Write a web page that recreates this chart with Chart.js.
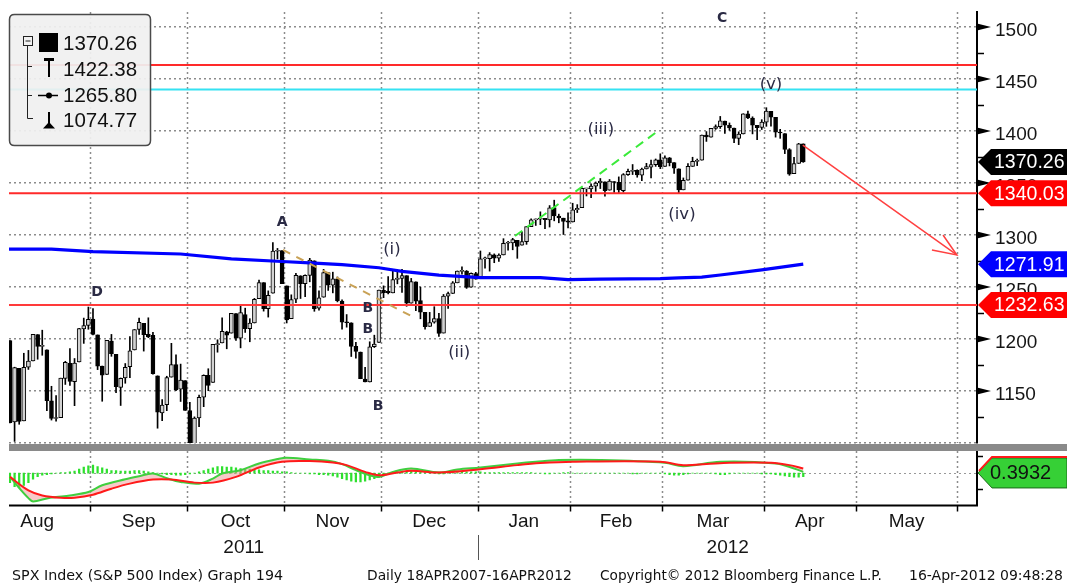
<!DOCTYPE html>
<html><head><meta charset="utf-8">
<script src="https://cdn.jsdelivr.net/npm/chart.js@4.4.1/dist/chart.umd.min.js"></script>
<style>
html,body{margin:0;padding:0;background:#fff;}
#wrap{position:relative;width:1067px;height:583px;overflow:hidden;background:#fff;}
canvas{position:absolute;left:0;top:0;}
</style></head><body>
<div id="wrap"><canvas id="top" width="1067" height="583"></canvas><canvas id="bot" width="1067" height="583"></canvas></div>
<script>
// ---------- categories (trading days) ----------
const tradingMonths = ["2011-08","2011-09","2011-10","2011-11","2011-12","2012-01","2012-02","2012-03","2012-04","2012-05","2012-06"];
const monthNames = ["Aug","Sep","Oct","Nov","Dec","Jan","Feb","Mar","Apr","May","Jun"];
const tradingDays = [
 [1,2,3,4,5,8,9,10,11,12,15,16,17,18,19,22,23,24,25,26,29,30,31],
 [1,2,6,7,8,9,12,13,14,15,16,19,20,21,22,23,26,27,28,29,30],
 [3,4,5,6,7,10,11,12,13,14,17,18,19,20,21,24,25,26,27,28,31],
 [1,2,3,4,7,8,9,10,11,14,15,16,17,18,21,22,23,25,28,29,30],
 [1,2,5,6,7,8,9,12,13,14,15,16,19,20,21,22,23,27,28,29,30],
 [3,4,5,6,9,10,11,12,13,17,18,19,20,23,24,25,26,27,30,31],
 [1,2,3,6,7,8,9,10,13,14,15,16,17,21,22,23,24,27,28,29],
 [1,2,5,6,7,8,9,12,13,14,15,16,19,20,21,22,23,26,27,28,29,30],
 [2,3,4,5,9,10,11,12,13,16,17,18,19,20,23,24,25,26,27,30],
 [1,2,3,4,7,8,9,10,11,14,15,16,17,18,21,22,23,24,25,29,30,31],
 [1,4,5,6,7,8]
];
const yearNames = ["2011","2012"];
const firstCandleDate = "2011-08-05";

// ---------- SPX daily OHLC (Aug 5 2011 - Apr 13 2012) ----------
const open = [
1200.28,1198.48,1120.23,1171.77,1121.30,1172.87,1178.86,1204.22,1192.89,1189.62,1140.47,1123.55,1124.36,1162.16,1176.69,1158.85,1177.91,1209.76,1213.00,
1219.12,1203.90,1173.97,1165.85,1197.98,1185.37,1153.50,1162.59,1173.32,1189.44,1209.21,1214.99,1204.50,1203.63,1164.55,1128.82,1136.91,1163.32,1175.39,1151.74,1159.93,
1131.21,1097.42,1124.03,1144.11,1165.03,1158.15,1194.60,1196.19,1206.96,1205.65,1224.47,1200.75,1223.46,1209.92,1215.39,1238.72,1254.19,1229.17,1243.97,1284.39,1284.96,
1251.00,1219.62,1238.25,1260.82,1253.21,1261.12,1275.18,1229.59,1240.12,1263.85,1251.70,1257.81,1236.56,1216.19,1215.62,1192.98,1187.48,1161.41,1158.67,1192.56,1196.72,
1246.91,1246.03,1244.33,1257.19,1258.14,1260.87,1234.48,1255.05,1236.83,1225.73,1212.12,1216.09,1219.74,1205.72,1241.25,1243.72,1254.00,1265.02,1265.38,1249.75,1262.82,
1258.86,1277.03,1277.30,1280.93,1277.83,1280.77,1292.02,1292.48,1294.82,1290.22,1293.65,1308.07,1314.49,1315.29,1315.96,1314.40,1326.28,1318.25,1316.16,1313.53,
1312.45,1324.24,1326.21,1344.32,1344.33,1347.04,1349.97,1351.21,1343.06,1351.30,1350.52,1342.61,1358.06,1361.22,1362.11,1357.53,1363.46,1365.20,1367.56,1372.20,
1365.90,1374.09,1369.59,1363.63,1343.39,1352.65,1365.97,1370.78,1371.92,1395.95,1394.17,1402.55,1404.17,1409.59,1405.52,1402.89,1392.78,1397.11,1416.55,1412.52,1405.39,1403.31,
1408.47,1418.98,1413.09,1398.79,1397.45,1382.18,1358.98,1368.77,1387.61];
const high = [
1218.11,1198.48,1172.88,1171.77,1186.29,1189.04,1204.49,1204.22,1208.47,1189.62,1154.54,1145.49,1162.35,1178.56,1190.68,1181.23,1210.28,1220.10,1230.71,
1229.29,1203.90,1173.97,1198.62,1204.40,1185.37,1162.52,1176.41,1202.38,1209.11,1220.06,1214.99,1220.39,1206.30,1164.55,1141.72,1164.19,1195.86,1184.71,1175.87,1159.93,
1138.99,1125.12,1146.07,1165.55,1171.40,1194.91,1199.24,1220.25,1207.46,1224.61,1224.47,1233.10,1229.64,1219.53,1239.03,1256.55,1254.19,1246.28,1292.66,1287.08,1284.96,
1251.00,1242.48,1263.21,1260.82,1261.70,1277.55,1275.18,1246.22,1266.98,1263.85,1264.25,1259.61,1237.73,1223.51,1215.62,1196.81,1187.48,1172.66,1197.35,1203.67,1247.11,
1251.09,1260.08,1266.73,1266.03,1267.06,1260.87,1258.25,1255.05,1249.86,1225.73,1225.60,1231.04,1224.57,1242.82,1245.09,1255.22,1265.42,1269.37,1265.85,1263.54,1264.12,
1284.62,1278.73,1283.05,1281.84,1281.99,1296.46,1293.80,1296.82,1294.82,1303.00,1308.11,1315.49,1315.38,1322.28,1315.96,1328.30,1333.47,1320.06,1316.16,1321.41,
1330.52,1329.19,1345.34,1344.36,1349.24,1351.00,1354.32,1351.21,1353.35,1351.30,1355.87,1359.02,1363.40,1367.76,1362.70,1364.24,1368.92,1371.94,1373.09,1378.04,
1376.17,1374.53,1369.59,1363.63,1354.85,1368.72,1374.76,1373.04,1396.13,1399.42,1402.63,1405.88,1414.00,1409.59,1407.75,1402.89,1399.18,1416.58,1419.15,1413.65,1405.39,1410.89,
1422.38,1419.00,1413.09,1401.60,1397.45,1383.01,1374.71,1388.13,1387.61];
const low = [
1168.09,1119.28,1101.54,1118.01,1121.30,1170.74,1178.86,1180.53,1184.36,1131.03,1122.05,1121.09,1124.36,1156.30,1155.47,1135.91,1177.91,1195.77,1209.35,
1203.85,1170.56,1140.13,1165.85,1183.34,1148.37,1136.07,1157.44,1162.73,1189.44,1204.46,1188.36,1201.29,1166.21,1114.22,1121.36,1131.07,1163.32,1150.40,1139.93,1131.34,
1098.92,1074.77,1115.68,1134.95,1150.26,1158.15,1187.30,1196.19,1190.58,1205.65,1198.55,1191.48,1206.31,1197.34,1215.39,1238.72,1226.79,1221.06,1243.97,1277.01,1253.16,
1215.42,1219.62,1234.81,1238.92,1240.75,1254.99,1226.64,1227.70,1240.12,1246.68,1244.34,1235.67,1209.43,1211.36,1183.16,1181.65,1161.79,1158.66,1158.67,1191.80,1196.72,
1239.73,1243.35,1244.33,1253.03,1244.80,1231.47,1234.48,1227.25,1219.43,1209.47,1212.12,1215.20,1202.37,1205.72,1229.51,1243.72,1254.00,1262.30,1248.64,1249.75,1257.46,
1258.86,1268.10,1265.26,1273.34,1274.55,1280.77,1285.41,1285.77,1277.58,1290.22,1290.99,1308.07,1309.17,1309.89,1306.06,1307.65,1313.60,1311.72,1300.49,1306.69,
1312.45,1321.57,1326.21,1337.52,1335.92,1341.95,1344.63,1337.35,1343.06,1340.83,1340.80,1341.22,1357.24,1358.11,1355.53,1352.28,1363.46,1354.92,1365.97,1363.81,
1365.90,1366.42,1359.13,1340.03,1343.39,1352.65,1365.97,1366.69,1371.92,1389.97,1394.17,1401.47,1402.43,1397.68,1400.64,1388.73,1386.87,1397.11,1411.95,1397.20,1391.56,1401.42,
1404.46,1404.62,1394.09,1392.92,1378.24,1357.38,1358.98,1368.77,1369.85];
const close = [
1199.38,1119.46,1172.53,1120.76,1172.64,1178.81,1204.49,1192.76,1193.89,1140.65,1123.53,1123.82,1162.35,1177.60,1159.27,1176.80,1210.08,1212.92,1218.89,
1204.42,1173.97,1165.24,1198.62,1185.90,1154.23,1162.27,1172.87,1188.68,1209.11,1216.01,1204.09,1202.09,1166.76,1129.56,1136.43,1162.95,1175.38,1151.06,1160.40,1131.42,
1099.23,1123.95,1144.03,1164.97,1155.46,1194.89,1195.54,1207.25,1203.66,1224.58,1200.86,1225.38,1209.88,1215.39,1238.25,1254.19,1229.05,1242.00,1284.59,1285.09,1253.30,
1218.28,1237.90,1261.15,1253.23,1261.12,1275.92,1229.10,1239.69,1263.85,1251.78,1257.81,1236.91,1216.13,1215.65,1192.98,1188.04,1161.79,1158.67,1192.55,1195.19,1246.96,
1244.58,1244.28,1257.08,1258.47,1261.01,1234.35,1255.19,1236.47,1225.73,1211.82,1215.75,1219.66,1205.35,1241.30,1243.72,1254.00,1265.33,1265.43,1249.64,1263.02,1257.60,
1277.06,1277.30,1281.06,1277.81,1280.70,1292.08,1292.48,1295.50,1289.09,1293.67,1308.04,1314.50,1315.38,1316.00,1314.65,1326.06,1318.43,1316.33,1313.01,1312.41,
1324.09,1325.54,1344.90,1344.33,1347.05,1349.96,1351.95,1342.64,1351.77,1350.50,1343.23,1358.04,1361.23,1362.21,1357.66,1363.46,1365.74,1367.59,1372.18,1365.68,
1374.09,1369.63,1364.33,1343.36,1352.63,1365.91,1370.87,1371.09,1395.95,1394.28,1402.60,1404.17,1409.75,1405.52,1402.89,1392.78,1397.11,1416.51,1412.52,1405.54,1403.28,1408.47,
1419.04,1413.38,1398.96,1398.08,1382.20,1358.59,1368.71,1387.57,1370.26];

// ---------- moving average (blue), read at sample days ----------
const maDay = [4,14,23,42,53,64,71,77,85,90,98,107,120,126,133,146,150,155,159,168,177];
const maVal = [1286.5,1286.5,1284,1281.7,1277,1274.5,1273,1271.5,1268.5,1265,1261.5,1259,1259,1257,1257.5,1258,1258.7,1259.5,1261.5,1266.5,1272];

// ---------- horizontal levels ----------
const levelVals = [1463.5, 1440, 1340.03, 1232.63];
const levelColors = ['#ff2a2a','#35e2f2','#ff2a2a','#ff3a3a'];

// ---------- trend lines ----------
const greenDay = [114.5, 144.9], greenVal = [1299, 1398];
const tanDay = [64.2, 92.4], tanVal = [1285.6, 1221.2];
const arrowDay = [176.9, 210.3], arrowVal = [1386.5, 1280.8];
const headDay = [207.3, 210.3, 204.9], headVal = [1300, 1280.8, 1285.6];

// ---------- wave labels ----------
const waveText = ["C","(v)","(iii)","(iv)","A","(i)","D","B","B","(ii)","B"];
const waveDay  = [159.4,170,133.1,150.7,64,87.8,23.9,82.6,82.6,102.4,84.8];
const waveVal  = [1508.7,1444.2,1401,1319.2,1312.5,1285.6,1245.2,1229.8,1209.6,1186.5,1135.6];

// ---------- right axis tags & legend ----------
const tagVals = [1370.26, 1340.03, 1271.91, 1232.63];
const tagBg = ['#000000','#ff0000','#0000ff','#ff0000'];
const legendVals = ["1370.26","1422.38","1265.80","1074.77"];
const macdTag = 0.3932;

// ---------- MACD panel ----------
const macdDay = [5,7,9,10,13,15,18,22,25,30,33,36,39,42,46,49,51,55,59,63,65,70,74,77,80,83,85,88,92,98,102,107,115,119,124,133,147,151,159,171,175,177];
const macdVal = [-5.5,-22,-37,-42,-37.5,-35.5,-33,-28,-18,-9,-4.5,-0.5,-7.5,-13,-15.5,-8,-0.5,4.5,14.5,21,23,20.5,18.5,13.5,4.5,-3,-5.5,2,7,1,5.5,8.5,14.5,17,19.5,19.5,15.5,10.5,17,14.5,7,2];
const sigDay = [5,9,12,16,19,23,27,31,36,40,45,49,54,59,64,70,75,78,82,85,89,92,98,107,115,120,127,146,151,156,161,170,174,177];
const sigVal = [-5.5,-25.5,-33,-36.5,-36.5,-32,-23,-15.5,-9.5,-9.5,-14,-14,-5.5,8.5,17,18,16,12,2,-3,1,3.5,1,6,12,15,17,17,12,13.5,15.5,15.5,12,7];
const histVal = [
-8,
-14,-20,-21,-18,-14,-9,-5,
-3,-2,-1,0,1,1,2,3,
6,9,11,12,10,8,6,
4,4,3,3,3,4,4,3,2,
1,0,-1,-2,-2,-3,-3,-2,
-1,0,2,4,6,
8,10,10,9,9,8,7,6,6,
5,5,4,4,3,3,2,2,1,
0,0,0,-1,-1,-2,-2,-3,-4,
-6,-8,-10,-12,-13,-13,-12,-10,-8,-6,-4,
-1,1,2,3,3,3,2,2,1,
0,0,-1,-1,0,1,1,2,2,2,
2,2,1,1,1,1,1,1,1,1,
1,1,1,0,0,-1,-1,0,0,1,1,0,
0,0,0,0,0,0,0,0,0,0,0,0,-1,-1,0,0,0,0,
0,-1,-2,-3,-3,-2,-1,0,0,0,
0,0,-1,-2,-2,-1,0,0,0,0,0,0,-1,-1,-1,
-2,-3,-4,-5,-6,-6,-5];

const footer = ["SPX Index (S&P 500 Index) Graph 194","Daily 18APR2007-16APR2012","Copyright\u00A9 2012 Bloomberg Finance L.P.","16-Apr-2012 09:48:28"];

// ---------- derived ----------
const dates = [];
const monthStart = [];
tradingMonths.forEach((m, mi) => {
  monthStart.push(dates.length);
  tradingDays[mi].forEach(d => dates.push(m + '-' + String(d).padStart(2,'0')));
});
const CS = dates.indexOf(firstCandleDate);
const monthBounds = monthStart.map(i => i - 0.6);
const X_MIN = 4.79, X_MAX = 214.67;
const FONT = "'Liberation Sans', Arial, sans-serif";
const GRID = '#8c8c8c';
Chart.defaults.font.family = FONT;

const pts = (xs, ys) => xs.map((v, i) => ({x: v, y: ys[i]}));
const bodies = open.map((o, i) => ({x: CS + i, y: [o, close[i]]}));
const wicks = high.map((h, i) => ({x: CS + i, y: [low[i], h]}));
const bodyFill = open.map((o, i) => close[i] >= o ? '#d2d2d2' : '#000000');

const lineDs = (data, color, width, dash, order) => ({type: 'line', data, borderColor: color, borderWidth: width, borderDash: dash || [], pointRadius: 0, fill: false, order: order || 1, tension: 0});

function fitText(ctx, text, x0, x1, align, yy, family) {
  ctx.font = "13px " + family;
  const w = ctx.measureText(text).width;
  const size = 13 * (x1 - x0) / w;
  ctx.font = size.toFixed(2) + "px " + family;
  ctx.textAlign = 'left';
  ctx.fillText(text, x0, yy);
}

// ---------- top panel plugin ----------
const topDeco = {
  id: 'topDeco',
  beforeDatasetsDraw(chart) {
    const {ctx, chartArea: a, scales: {x}} = chart;
    ctx.save();
    ctx.strokeStyle = GRID; ctx.lineWidth = 1.5; ctx.setLineDash([2,3]);
    monthBounds.forEach(b => {
      if (b < X_MIN || b > X_MAX) return;
      const px = Math.round(x.getPixelForValue(b)) + 0.5;
      ctx.beginPath(); ctx.moveTo(px, a.top); ctx.lineTo(px, a.bottom); ctx.stroke();
    });
    ctx.restore();
  },
  afterDatasetsDraw(chart) {
    const {ctx, scales: {x, y}} = chart;
    ctx.save();
    ctx.textAlign = 'center'; ctx.textBaseline = 'middle';
    ctx.fillStyle = '#2a2a44';
    waveText.forEach((t, i) => {
      const single = t.length === 1;
      ctx.font = single ? "bold 14px 'DejaVu Sans', sans-serif" : "16.5px 'DejaVu Sans', sans-serif";
      ctx.fillText(t, x.getPixelForValue(waveDay[i]), y.getPixelForValue(waveVal[i]));
    });
    ctx.restore();
  },
  afterDraw(chart) {
    const {ctx, chartArea: a, scales: {y}} = chart;
    ctx.save();
    ctx.fillStyle = '#000'; ctx.strokeStyle = '#000'; ctx.lineWidth = 1.5;
    for (let v = 1150; v <= 1500; v += 50) {
      const py = y.getPixelForValue(v);
      ctx.beginPath(); ctx.moveTo(a.right, py - 3.5); ctx.lineTo(a.right + 14, py); ctx.lineTo(a.right, py + 3.5); ctx.closePath(); ctx.fill();
    }
    for (let v = 1125; v <= 1500; v += 50) {
      const py = Math.round(y.getPixelForValue(v)) + 0.5;
      ctx.beginPath(); ctx.moveTo(a.right, py); ctx.lineTo(a.right + 7, py); ctx.stroke();
    }
    tagVals.forEach((v, i) => {
      const yc = y.getPixelForValue(v), h = 13;
      ctx.beginPath(); ctx.moveTo(a.right + 1, yc); ctx.lineTo(a.right + 14, yc - h); ctx.lineTo(1067, yc - h); ctx.lineTo(1067, yc + h); ctx.lineTo(a.right + 14, yc + h); ctx.closePath();
      ctx.fillStyle = tagBg[i]; ctx.fill();
      ctx.fillStyle = '#fff'; ctx.font = "19.5px " + FONT; ctx.textAlign = 'left'; ctx.textBaseline = 'middle';
      ctx.fillText(v.toFixed(2), 994, yc + 1);
    });
    const r = 5, bx = 9.5, by = 14.5, bw = 141, bh = 131;
    ctx.beginPath();
    ctx.moveTo(bx + r, by); ctx.lineTo(bx + bw - r, by); ctx.quadraticCurveTo(bx + bw, by, bx + bw, by + r);
    ctx.lineTo(bx + bw, by + bh - r); ctx.quadraticCurveTo(bx + bw, by + bh, bx + bw - r, by + bh);
    ctx.lineTo(bx + r, by + bh); ctx.quadraticCurveTo(bx, by + bh, bx, by + bh - r);
    ctx.lineTo(bx, by + r); ctx.quadraticCurveTo(bx, by, bx + r, by); ctx.closePath();
    ctx.fillStyle = 'rgba(240,240,240,0.93)'; ctx.fill();
    ctx.strokeStyle = '#4a4a4a'; ctx.lineWidth = 1.5; ctx.stroke();
    ctx.strokeStyle = '#222'; ctx.lineWidth = 1;
    ctx.strokeRect(23.5, 36.5, 9, 9);
    ctx.beginPath(); ctx.moveTo(25.5, 41); ctx.lineTo(30.5, 41); ctx.stroke();
    ctx.beginPath(); ctx.moveTo(27.5, 46); ctx.lineTo(27.5, 118.5); ctx.lineTo(33, 118.5);
    ctx.moveTo(27.5, 66.5); ctx.lineTo(32, 66.5); ctx.moveTo(27.5, 95.5); ctx.lineTo(32, 95.5); ctx.stroke();
    ctx.fillStyle = '#000';
    ctx.fillRect(39, 33, 19, 19);
    ctx.fillRect(44, 58, 10, 3); ctx.fillRect(48, 58, 2, 19);
    ctx.beginPath(); ctx.moveTo(38, 95.5); ctx.lineTo(58, 95.5); ctx.lineWidth = 1.5; ctx.strokeStyle = '#000'; ctx.stroke();
    ctx.beginPath(); ctx.arc(49, 95.5, 3, 0, Math.PI * 2); ctx.fill();
    ctx.fillRect(48, 112, 2, 14);
    ctx.beginPath(); ctx.moveTo(43, 128.5); ctx.lineTo(55, 128.5); ctx.lineTo(49, 122); ctx.closePath(); ctx.fill();
    ctx.fillStyle = '#111'; ctx.font = "20.5px " + FONT; ctx.textAlign = 'left'; ctx.textBaseline = 'middle';
    [44, 70, 96, 121].forEach((ty, i) => ctx.fillText(legendVals[i], 63, ty));
    ctx.restore();
  }
};

new Chart(document.getElementById('top'), {
  type: 'bar',
  data: { datasets: [
    {type: 'bar', data: wicks, backgroundColor: '#000', barThickness: 1, grouped: false, order: 11},
    {type: 'bar', data: bodies, backgroundColor: bodyFill, borderColor: '#000', borderWidth: 1, borderSkipped: false, barThickness: 4, minBarLength: 1, grouped: false, order: 10},
    ...levelVals.map((v, i) => lineDs([{x: X_MIN, y: v}, {x: X_MAX, y: v}], levelColors[i], 2, null, 3)),
    lineDs(pts(maDay, maVal), '#0000ff', 3.2, null, 2),
    lineDs(pts(greenDay, greenVal), '#3aea3a', 2, [9,6], 1),
    lineDs(pts(tanDay, tanVal), '#c9a256', 2, [8,7], 1),
    lineDs(pts(arrowDay, arrowVal), '#ff4040', 1.5, null, 1),
    lineDs(pts(headDay, headVal), '#ff4040', 1.5, null, 1)
  ]},
  options: {
    responsive: false, animation: false, devicePixelRatio: 1,
    layout: {padding: {top: 12, bottom: 140, left: 9, right: 0}},
    plugins: {legend: {display: false}, tooltip: {enabled: false}},
    scales: {
      x: {type: 'linear', min: X_MIN, max: X_MAX, display: false, offset: false, grid: {offset: false}},
      y: {type: 'linear', position: 'right', min: 1100, max: 1514.4,
          afterFit(s) { s.width = 90; s.paddingTop = 0; s.paddingBottom = 0; },
          ticks: {stepSize: 50, includeBounds: false, padding: 18, labelOffset: 4, color: '#151515', font: {size: 19, family: FONT},
                  callback: v => v === 1100 ? '' : String(v)},
          grid: {color: GRID, lineWidth: 1.5, drawTicks: false},
          border: {display: true, color: '#000', width: 2, dash: [2,3]}}
    }
  },
  plugins: [topDeco]
});

// ---------- bottom panel plugin ----------
const botDeco = {
  id: 'botDeco',
  beforeDatasetsDraw(chart) {
    const {ctx, chartArea: a, scales: {x, y}} = chart;
    ctx.save();
    ctx.strokeStyle = GRID; ctx.lineWidth = 1.5; ctx.setLineDash([2,3]);
    monthBounds.forEach(b => {
      if (b < X_MIN || b > X_MAX) return;
      const px = Math.round(x.getPixelForValue(b)) + 0.5;
      ctx.beginPath(); ctx.moveTo(px, a.top); ctx.lineTo(px, a.bottom); ctx.stroke();
    });
    const zy = Math.round(y.getPixelForValue(0)) + 0.5;
    ctx.lineWidth = 1; ctx.strokeStyle = '#999';
    ctx.beginPath(); ctx.moveTo(a.left, zy); ctx.lineTo(a.right, zy); ctx.stroke();
    ctx.restore();
  },
  afterDraw(chart) {
    const {ctx, chartArea: a, scales: {x, y}} = chart;
    ctx.save();
    ctx.fillStyle = '#8a8a8a'; ctx.fillRect(9, 444, 1058, 7);
    ctx.strokeStyle = '#000'; ctx.lineWidth = 2;
    ctx.beginPath(); ctx.moveTo(a.left, a.bottom); ctx.lineTo(a.right + 1, a.bottom); ctx.stroke();
    ctx.beginPath(); ctx.moveTo(a.right, a.top); ctx.lineTo(a.right, a.bottom); ctx.stroke();
    ctx.lineWidth = 1.5;
    monthBounds.forEach(b => {
      if (b < X_MIN || b > X_MAX) return;
      const px = Math.round(x.getPixelForValue(b)) + 0.5;
      ctx.beginPath(); ctx.moveTo(px, a.bottom); ctx.lineTo(px, a.bottom + 6); ctx.stroke();
    });
    [25.5, -24].forEach(v => {
      const py = Math.round(y.getPixelForValue(v)) + 0.5;
      ctx.beginPath(); ctx.moveTo(a.right, py); ctx.lineTo(a.right + 6, py); ctx.stroke();
    });
    const yc = y.getPixelForValue(macdTag), h = 15;
    ctx.beginPath(); ctx.moveTo(a.right + 1, yc); ctx.lineTo(a.right + 15, yc - h); ctx.lineTo(1067, yc - h); ctx.lineTo(1067, yc + h); ctx.lineTo(a.right + 15, yc + h); ctx.closePath();
    ctx.fillStyle = '#36d036'; ctx.fill(); ctx.strokeStyle = '#1a6a1a'; ctx.lineWidth = 1; ctx.stroke();
    ctx.beginPath(); ctx.moveTo(a.right + 2, yc - 2); ctx.lineTo(a.right + 15, yc - h - 1); ctx.lineTo(1067, yc - h - 1);
    ctx.strokeStyle = '#ff1a1a'; ctx.lineWidth = 2; ctx.stroke();
    ctx.fillStyle = '#111'; ctx.font = "20px " + FONT; ctx.textAlign = 'left'; ctx.textBaseline = 'middle';
    ctx.fillText(String(macdTag), 990, yc + 1);
    ctx.fillStyle = '#151515'; ctx.font = "19px " + FONT; ctx.textAlign = 'center';
    for (let m = 0; m < monthNames.length - 1; m++) {
      const c = (x.getPixelForValue(monthBounds[m]) + x.getPixelForValue(monthBounds[m + 1])) / 2;
      if (c < a.left || c > a.right) continue;
      ctx.fillText(monthNames[m], c, 522);
    }
    const jan = tradingMonths.indexOf('2012-01');
    const jx = Math.round(x.getPixelForValue(monthBounds[jan])) + 0.5;
    ctx.fillText(yearNames[0], (a.left + jx) / 2, 548);
    ctx.fillText(yearNames[1], (jx + a.right) / 2, 548);
    ctx.strokeStyle = '#555'; ctx.lineWidth = 1;
    ctx.beginPath(); ctx.moveTo(jx, 535); ctx.lineTo(jx, 560); ctx.stroke();
    ctx.fillStyle = '#111'; ctx.textBaseline = 'middle';
    const ff = "'DejaVu Sans', sans-serif";
    fitText(ctx, footer[0], 12, 283, 'left', 576, ff);
    fitText(ctx, footer[1], 367, 572, 'left', 576, ff);
    fitText(ctx, footer[2], 600, 882, 'left', 576, ff);
    fitText(ctx, footer[3], 909, 1063, 'left', 576, ff);
    ctx.restore();
  }
};

new Chart(document.getElementById('bot'), {
  type: 'bar',
  data: { datasets: [
    {type: 'bar', data: histVal.map((v, i) => ({x: CS + i, y: v})), backgroundColor: '#2ee02e', barThickness: 1.6, grouped: false, order: 3},
    {type: 'line', data: pts(macdDay, macdVal), borderColor: '#3fcf3f', borderWidth: 2, pointRadius: 0, tension: 0.35,
     fill: {target: 2, above: 'rgba(240,150,150,0.5)', below: 'rgba(240,150,150,0.5)'}, order: 2},
    {type: 'line', data: pts(sigDay, sigVal), borderColor: '#ff1a1a', borderWidth: 2, pointRadius: 0, tension: 0.35, fill: false, order: 1}
  ]},
  options: {
    responsive: false, animation: false, devicePixelRatio: 1,
    layout: {padding: {top: 451, bottom: 77.5, left: 9, right: 0}},
    plugins: {legend: {display: false}, tooltip: {enabled: false}},
    scales: {
      x: {type: 'linear', min: X_MIN, max: X_MAX, display: false, offset: false},
      y: {type: 'linear', position: 'right', min: -48, max: 33, afterFit(s) { s.width = 90; s.paddingTop = 0; s.paddingBottom = 0; },
          ticks: {display: false}, grid: {display: false}, border: {display: false}}
    }
  },
  plugins: [botDeco]
});
</script></body></html>
